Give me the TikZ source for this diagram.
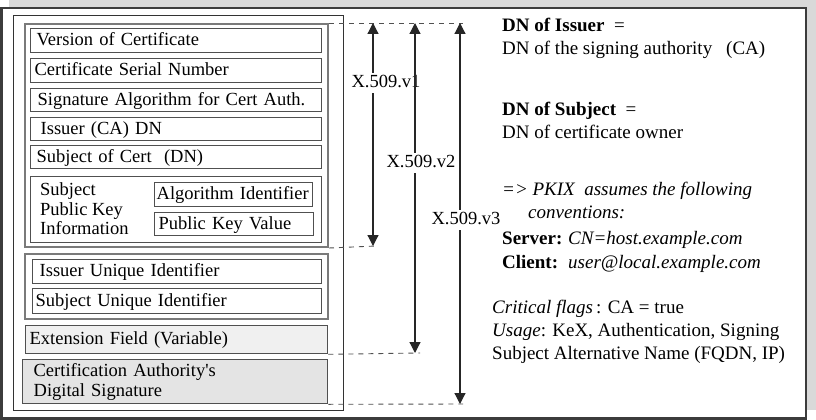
\documentclass[tikz,border=0pt]{standalone}
\usepackage{fontspec}
\setmainfont{Liberation Serif}
\usetikzlibrary{arrows.meta}
\definecolor{framec}{HTML}{3C3C3C}
\definecolor{shadowc}{HTML}{D9D9D9}
\definecolor{groupc}{HTML}{7A7A7A}
\definecolor{fieldc}{HTML}{505050}
\definecolor{extc}{HTML}{F0F0F0}
\definecolor{sigc}{HTML}{E4E4E4}
\definecolor{dashc}{HTML}{505050}
\begin{document}
\begin{tikzpicture}[x=1pt,y=-1pt,
  txt/.style={font=\fontsize{18.5}{20}\selectfont, inner sep=0pt},
  fieldbase/.style={txt, draw=fieldc, line width=1.3pt, fill=white, anchor=north west, align=left},
  field/.style={fieldbase, text height=13pt, text depth=3pt},
  fw/.style={minimum width=#1, text width=#1},
  group/.style={draw=groupc, line width=2pt, anchor=north west, inner sep=0pt},
  dashline/.style={draw=dashc, line width=0.9pt, dash pattern=on 5pt off 5pt},
  dim/.style={draw=black!85, line width=1.2pt, {Triangle[length=11pt,width=11pt]}-{Triangle[length=11pt,width=11pt]}},
  dimlabel/.style={txt, fill=white, inner xsep=0pt, inner ysep=1.5pt, text height=13pt, text depth=4pt},
  rtext/.style={inner sep=0pt, font=\fontsize{19}{21}\selectfont, anchor=base west},
]
\useasboundingbox (0,0) rectangle (816,420);
% frame with shadow
\fill[shadowc] (9,0) rectangle (816,410);
\draw[framec, line width=2.5pt, fill=white] (1.25,8) rectangle (806,418.5);
% inner frame
\node[draw=black!80, line width=0.9pt, anchor=north west, minimum width=330pt, minimum height=395pt, inner sep=0pt] (inner) at (13,15) {};
% group 1 (v1 fields)
\node[group, minimum width=303pt, minimum height=223pt] (g1) at (24,23) {};
\node[field, fw=291pt, minimum height=24pt] (ver) at (30,28) {\hspace*{6pt}Version of Certificate};
\node[field, fw=291pt, minimum height=24pt] (ser) at (30,58) {\hspace*{4pt}Certificate Serial Number};
\node[field, fw=291pt, minimum height=23pt] (sig) at (30,88) {\hspace*{7pt}Signature Algorithm for Cert Auth.};
\node[field, fw=291pt, minimum height=23pt] (iss) at (30,117) {\hspace*{10pt}Issuer (CA) DN};
\node[field, fw=291pt, minimum height=23pt] (sub) at (30,145) {\hspace*{6pt}Subject of Cert\ \ (DN)};
\node[field, fw=291pt, minimum height=66pt] (spki) at (30,176) {};
\node[txt, anchor=west, align=left, font=\fontsize{18.5}{19.5}\selectfont] (spkit) at (40,209) {Subject\\Public Key\\Information};
\node[field, fw=158pt, minimum height=24pt] (alg) at (154,182) {\hspace*{2pt}Algorithm Identifier};
\node[field, fw=159pt, minimum height=23pt] (pkv) at (154,212) {\hspace*{4pt}Public Key Value};
% group 2 (v2 fields)
\node[group, minimum width=303pt, minimum height=65pt] (g2) at (24,253) {};
\node[field, fw=289pt, minimum height=24pt] (iui) at (32,259) {\hspace*{7pt}Issuer Unique Identifier};
\node[field, fw=289pt, minimum height=25pt] (sui) at (32,288) {\hspace*{3pt}Subject Unique Identifier};
% v3 extension and signature
\node[field, fill=extc, fw=302pt, minimum height=28pt] (ext) at (25,325) {\hspace*{4pt}Extension Field (Variable)};
\node[fieldbase, fill=sigc, fw=305pt, minimum height=44pt] (cas) at (22,359) {\hspace*{11pt}Certification Authority\textquotesingle s\\\hspace*{11pt}Digital Signature};
% dashed extension lines
\coordinate (d1) at (463,23);
\coordinate (d2) at (376,246);
\coordinate (d3) at (420,353);
\coordinate (d4) at (463,404);
\draw[dashline] (g1.north east) -- (d1);
\draw[dashline] (g1.south east) -- (d2);
\draw[dashline] (ext.south east) -- (d3);
\draw[dashline] (cas.south east) -- (d4);
% dimension arrows
\coordinate (a1t) at (373,23);
\coordinate (a1b) at (373,246);
\coordinate (a2t) at (415,23);
\coordinate (a2b) at (415,353);
\coordinate (a3t) at (460,23);
\coordinate (a3b) at (460,404);
\draw[dim] (a1t) -- (a1b);
\node[dimlabel] (l1) at (386,83) {X.509.v1};
\draw[dim] (a2t) -- (a2b);
\node[dimlabel] (l2) at (421,163) {X.509.v2};
\draw[dim] (a3t) -- (a3b);
\node[dimlabel] (l3) at (466,220) {X.509.v3};
% right text
\node[rtext] (r1) at (502,32) {\textbf{DN of Issuer}\ \ =};
\node[rtext] (r2) at (502,55) {DN of the signing authority\hspace{14pt}(CA)};
\node[rtext] (r3) at (502,115) {\textbf{DN of Subject}\ \ =};
\node[rtext] (r4) at (502,138) {DN of certificate owner};
\node[rtext] (r5) at (502,195) {\textit{=> PKIX\ \ assumes the following}};
\node[rtext] (r6) at (528,218) {\textit{conventions:}};
\node[rtext] (r7) at (502,244) {\makebox[66pt][l]{\textbf{Server:}}\textit{CN=host.example.com}};
\node[rtext] (r8) at (502,268) {\makebox[66pt][l]{\textbf{Client:}}\textit{user@local.example.com}};
\node[rtext] (r9) at (492,313) {\textit{Critical flags}\,: CA = true};
\node[rtext] (r10) at (492,336) {\textit{Usage}: KeX, Authentication, Signing};
\node[rtext] (r11) at (492,359) {Subject Alternative Name (FQDN, IP)};
\end{tikzpicture}
\end{document}
